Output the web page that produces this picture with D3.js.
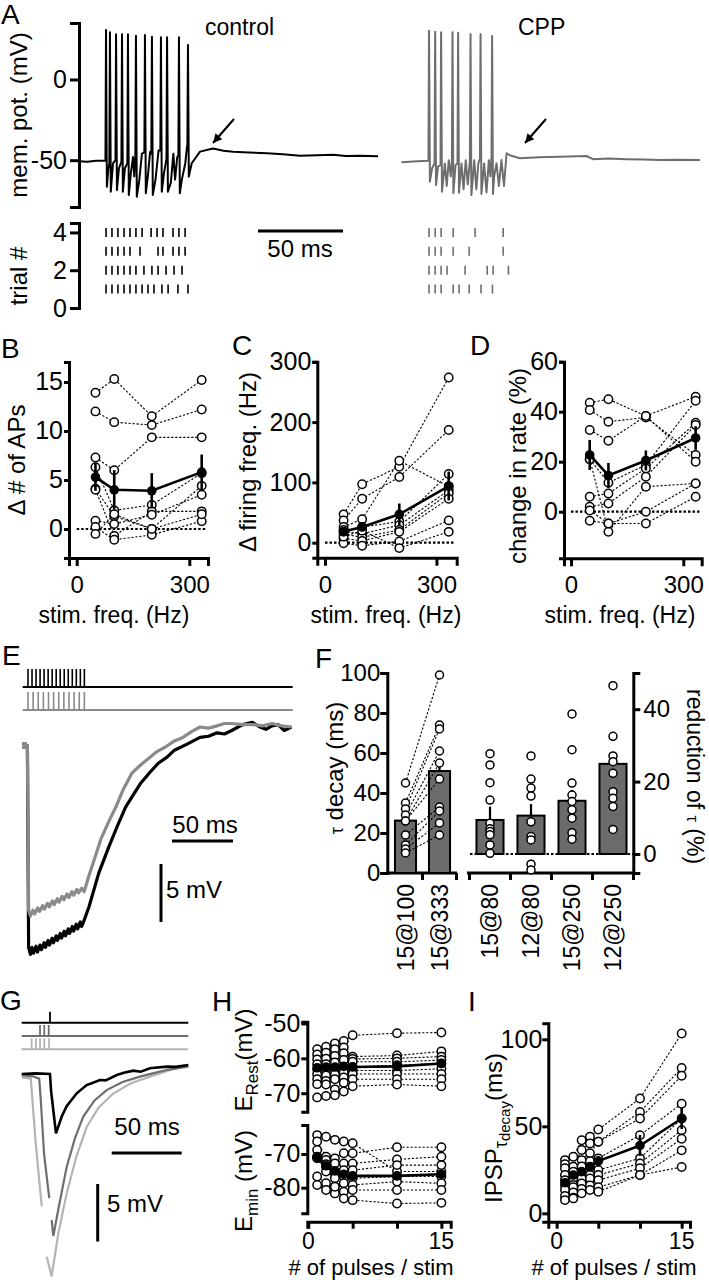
<!DOCTYPE html>
<html><head><meta charset="utf-8">
<script src="https://cdn.jsdelivr.net/npm/d3@7"></script>
<style>
body{margin:0;background:#fff;}
svg{display:block;font-family:"Liberation Sans",Arial,Helvetica,sans-serif;}
</style></head><body>
<svg id="fig" width="709" height="1280"></svg>
<script>
// ======================= DATA =======================
// Panel A – membrane potential traces (t in ms from stim onset, mV)
const ctrlPre = [[-15,-50.6],[-10,-50.9],[-5,-50.4],[0.3,-50.3]];
const ctrlSpikeT = [0.9,3.2,6.8,10.3,13.8,18.5,23.8,27.9,33.2,36.8,43.8,49.1];
const ctrlSpikePeak = [30.7,29.3,28.0,28.0,28.0,27.1,27.6,26.5,26.1,26.1,26.1,21.4];
const ctrlSpikeTrough = [-66.4,-69.5,-68.5,-69.5,-71.6,-72.6,-70.5,-71.6,-69.5,-69.5,-70.5,-60.2];
const ctrlSpikeOnset = [-50.3,-52,-50,-51,-52,-47,-45,-46,-44,-49,-47,-40];
const ctrlWiggle = [[2.2,-56],[5,-52],[8.5,-55],[12,-55],[15.5,-58],[16.8,-48],[17.5,-60],[20.5,-62],[22,-46],[25.5,-60],[26.8,-45],[30,-62],[31.8,-44],[35,-58],[39,-64],[40.5,-46],[41.5,-62],[42.8,-48],[45.5,-62],[47.5,-52],[48.5,-42]];
const ctrlPost = [[51.3,-51.9],[56.2,-44.7],[63.8,-42.7],[70,-44.2],[75.6,-44.7],[85,-45.2],[95.6,-45.7],[105,-46.3],[115,-47.3],[125,-46.9],[134.4,-46.7],[142,-47.4],[150.3,-47.3],[160.9,-47.6]];

const cppPre = [[-15,-51.3],[-8,-50.8],[0.6,-50.3]];
const cppSpikeT = [1.2,4.8,8.3,15.0,18.3,25.6,31.5,38.3];
const cppSpikePeak = [30.2,29.6,29.2,29.2,29.0,28.2,28.2,26.9];
const cppSpikeTrough = [-63.3,-65.4,-69.5,-70.5,-70.1,-71.6,-70.9,-70.9];
const cppSpikeOnset = [-50.3,-52,-53,-50,-52,-50,-49,-48];
const cppWiggle = [[3,-55],[6.5,-54],[10.5,-52],[11.6,-66],[12.8,-50],[14,-60],[16.8,-53],[20.3,-52],[21.5,-68],[22.8,-50],[24,-65],[27.8,-50],[29,-68],[30.2,-52],[33.6,-52],[35,-70],[36.4,-50],[37.3,-60],[39.5,-60]];
const cppPost = [[40.9,-51.9],[42.3,-66],[43.8,-49.9],[45.3,-66],[46.8,-45.7],[48.7,-46.9],[54.6,-48.8],[66,-48.2],[78.1,-47.8],[93.8,-47.4],[97.7,-49.4],[107,-49.0],[117,-49.4],[127,-49.6],[137,-49.9],[148,-49.7],[160.5,-49.9]];

// Panel A – raster (spike times, ms) per trial 1..4
const ctrlRaster = [
  [0.9,4.4,7.9,11.5,15,18.5,22.1,25.6,29.1,33.8,37.4,43.2,49.1],
  [0.9,4.4,7.9,11.5,15,18.5,23.2,27.9,31.5,36.2,40.9,45.6],
  [0.9,4.4,7.9,11.5,15,20.9,31.5,34.4,40.3,43.8,47.4],
  [0.9,4.4,7.9,11.5,15,18.5,22.1,27.4,30.9,34.4,40.3,43.8,47.4]];
const cppRaster = [
  [1.2,4.8,8.3,15.4,18.9,24.8,31.8,38.5],
  [1.2,4.8,8.3,11.8,22.4,35.4,38.9,47.9],
  [1.2,4.8,8.3,15.4,24.8,44.8],
  [1.2,4.8,8.3,15.4,28.3,44.8]];
const aTicks = [0,-50];
const aTickLabels = ["0","-50"];
const trialTicks = [0,2,4];

// Panels B, C, D
const freqs = [50,100,200,333];
const freqTicks = [0,300];
const apCells = [[13.9,15.3,11.5,15.2],[12.0,10.9,10.6,12.2],[7.3,6.0,9.35,9.35],[6.3,1.9,2.45,5.7],[4.1,1.3,0.0,4.4],[4.0,-0.7,1.8,1.8],[0.85,0.5,1.45,3.5],[0.2,-1.1,-0.6,0.8],[-0.5,1.5,0.0,1.5]];
const apMean = [5.3,4.0,3.9,5.8];
const apSem = [1.4,2.0,1.8,1.8];
const apTicks = [0,5,10,15];

const ffCells = [[47,97,126,274],[37,73,109,187],[26,39,136,93],[21,26,35,114],[18,15,29,87],[14,9,21,82],[7,3,18,73],[-1,-5,2,37],[10,20,-9,18]];
const ffMean = [18,26,47,94];
const ffSem = [6,7,18,24];
const ffTicks = [0,100,200,300];

const rateCells = [[43.6,45,38.3,46],[40.7,36,37.7,22.7],[32.7,28.4,38.3,20],[21,11.6,18.7,44.4],[6,7.3,17.3,35.6],[2,3.3,14,34.7],[-3.6,-4.7,-4.7,6],[21,-8,10,11.3],[0.5,-4.7,0,11.3]];
const rateMean = [22.7,14.5,20.5,29.5];
const rateSem = [6,5,4,4.7];
const rateTicks = [0,20,40,60];

// Panel E – averaged IPSPs (t ms, mV rel. baseline)
const eBlack = [[-4,-1.6],[-0.5,-1.6],[0,-10],[0.5,-19.0],[2,-19.6],[3.3,-19.0],[4.5,-19.5],[6.6,-18.9],[7.8,-19.4],[9.9,-18.8],[11,-19.2],[13.2,-18.6],[14.3,-19.0],[16.5,-18.4],[17.6,-18.8],[19.8,-18.2],[20.9,-18.6],[23.1,-18.0],[24.2,-18.4],[26.4,-17.8],[27.5,-18.2],[29.7,-17.6],[30.8,-18.0],[33,-17.4],[34.1,-17.8],[36.3,-17.2],[37.4,-17.6],[39.6,-17.0],[40.7,-17.4],[42.9,-16.8],[44,-17.2],[46.2,-16.6],[50,-15.5],[58,-12.6],[66,-10.4],[73,-8.6],[80,-6.9],[86,-5.9],[92,-4.9],[100,-3.9],[107,-3.1],[114,-2.6],[120,-2.0],[130,-1.5],[141,-0.9],[148,-0.8],[155,-0.5],[161,-0.6],[167,-0.3],[176,0.2],[184,0.4],[190,0.0],[195,-0.2],[200,0.1],[205,0.2],[210,-0.3],[216,0]];
const eGray = [[-4,-1.6],[-0.5,-1.6],[0,-8],[0.5,-15.8],[2,-16.3],[4,-15.8],[5.5,-16.1],[8,-15.6],[9.5,-15.9],[12,-15.4],[13.5,-15.7],[16,-15.2],[17.5,-15.5],[20,-15.0],[21.5,-15.3],[24,-14.8],[25.5,-15.1],[28,-14.6],[29.5,-14.9],[32,-14.4],[33.5,-14.7],[36,-14.2],[37.5,-14.5],[40,-14.0],[41.5,-14.3],[44,-13.9],[46,-14.2],[50,-12.8],[55,-11.2],[60,-9.6],[66,-8.2],[72,-6.9],[78,-5.4],[85,-4.0],[92,-3.3],[100,-2.6],[106,-2.1],[113,-1.7],[120,-1.2],[127,-0.9],[134,-0.4],[141,0],[148,-0.1],[155,0.1],[161,0.3],[167,0.3],[176,0.2],[185,0.2],[192,0.1],[200,0.3],[208,0.1],[216,0]];
const eStimBlack = [0,3.3,6.6,9.9,13.2,16.5,19.8,23.1,26.4,29.7,33,36.3,39.6,42.9,46.2];
const eStimGray = [0,4.2,8.4,12.6,16.8,21,25.2,29.4,33.6,37.8,42,46.2];

// Panel F
const fCatsLeft = ["15@100","15@333"];
const tauPairs = [[45,99],[35,74],[32,72],[29,61],[26,55],[26,47],[19,33],[14,31],[12,25],[10,19]];
const tauMean = [26.2,51];
const tauSem = [3.8,5.2];
const tauTicks = [0,20,40,60,80,100];
const fCatsRight = ["15@80","12@80","15@250","12@250"];
const redPts = [[27.7,24.6,19.7,14.9,8.5,7,6.2,5.3,2.5,0.2],[27.1,20.7,18.2,16,8.9,4.8,3.9,-2.8,-4.4],[38.7,28.8,19.6,16.3,14.5,12.2,9.9,5.9,4.1],[46.5,32.5,27.1,25.5,22.3,17.2,15.4,13.1,6.8]];
const redMean = [9.4,10.6,14.7,24.9];
const redSem = [3.7,3.2,3.0,3.0];
const redTicks = [0,20,40];

// Panel G – IPSPs for 1, 3 and 5 pulses (t ms, mV); null = blanked artefact
const gBlack = [[0,0],[10,0.05],[20.2,0],[21,-1.5],[24.5,-5.16],[28.6,-3.7],[32.1,-2.8],[39.3,-1.68],[46.4,-0.96],[50,-0.8],[55.9,-0.52],[60,-0.55],[67.9,-0.09],[73,0.1],[79.7,0.29],[85,0.2],[91.6,0.5],[103.6,0.64],[110,0.62],[119,0.78]];
const gDark = [[0,-0.1],[8,-0.2],[12.5,-0.4],[13.5,-2],[16,-7],[19.7,-10.8],null,[21.4,-12.7],[22.6,-14.1],[26.1,-11.8],[32.1,-8.1],[38,-5.6],[44,-3.7],[52,-2.3],[60.7,-1.4],[72,-0.7],[84.5,-0.23],[95,0.1],[103.6,0.35],[119,0.64]];
const gLight = [[0,-0.3],[6.5,-0.4],[7.5,-2],[10,-6],[14.3,-11.5],null,[17.9,-15.9],[21.4,-17.6],[26.1,-13.9],[32.1,-10.4],[39,-7.2],[46.4,-4.6],[55,-2.9],[65.4,-1.7],[78,-0.8],[91.6,-0.23],[105,0.3],[119,0.78]];
const gStimBlack = [20.2];
const gStimDark = [13.1,16.1,19.3];
const gStimLight = [7.1,10.2,13.1,16.1,19.5];

// Panels H and I
const pulses = [1,2,3,4,5,10,15];
const pulseTicks = [0,5,10,15];
const pulseTickLabels = [0,15];
const eRestCells = [[-57.4,-56.7,-55.7,-55.0,-53.4,-52.8,-52.6],[-58.9,-58.4,-57.4,-56.9,-59.5,-59.2,-58.0],[-60.3,-60.1,-59.3,-58.5,-60.2,-60.0,-59.5],[-61.7,-61.7,-61.2,-60.5,-61.0,-61.0,-60.5],[-63.1,-63.1,-63.1,-62.5,-62.5,-62.0,-61.5],[-64.6,-64.9,-64.6,-64.0,-63.5,-63.5,-63.0],[-66.0,-66.5,-66.0,-65.5,-64.5,-64.5,-64.5],[-67.4,-67.5,-68.9,-67.0,-66.0,-66.0,-66.0],[-71.2,-70.8,-70.6,-69.5,-68.0,-67.5,-68.0]];
const eRestMean = [-62.7,-62.5,-62.5,-62.3,-62.5,-62.3,-61.5];
const eRestSem = [1.0,1.0,1.0,1.0,1.0,1.0,1.0];
const eRestTicks = [-50,-60,-70];
const eMinCells = [[-64.4,-64.9,-65.8,-66.3,-66.8,-75.2,-75.2],[-66.3,-70.8,-71.3,-69.8,-69.8,-68.0,-68.0],[-68.8,-71.8,-72.8,-72.8,-72.8,-71.6,-70.8],[-70.8,-73.8,-75.7,-74.8,-74.8,-73.3,-73.3],[-71.3,-75.2,-77.2,-76.7,-77.2,-76.7,-76.7],[-76.7,-78.7,-79.7,-78.7,-79.2,-78.2,-78.7],[-79.2,-80.7,-81.7,-81.2,-80.7,-80.7,-80.7],[-71.0,-73.0,-79.7,-83.2,-83.7,-84.7,-84.5]];
const eMinMean = [-71,-73.5,-75,-76,-76.5,-76.5,-76];
const eMinSem = [1,1,1,1.2,1.2,1.3,1.3];
const eMinTicks = [-70,-80];
const tauDecayCells = [[30.6,32.5,42,44,48.2,66,103.3],[28.2,26.8,36.4,40.2,41.1,58.3,83.5],[25.9,24,30.6,34.5,41.1,54.5,79.1],[22,20,27,30,31.6,44.9,63],[19.1,16.3,23,26.8,24.9,31.6,54.5],[16,15,20,22,22,28.7,47.8],[13.4,12,17.2,20,19.1,25.9,42.9],[10,9,14,16,15,22,36.2],[7.6,8.6,11.5,13.4,12.4,22,26.6]];
const tauDecayMean = [17.6,22,24,26.8,30,39,54.5];
const tauDecaySem = [2,2,2.5,2.5,3,6,6];
const tauDecayTicks = [0,50,100];

// ======================= DRAWING =======================
const FONT = '"Liberation Sans", Arial, Helvetica, sans-serif';
const svg = d3.select("#fig");
svg.append("rect").attr("width",709).attr("height",1280).attr("fill","#fff");

function txt(g, x, y, s, size, anchor, rot){
  const t = g.append("text").attr("font-family",FONT).attr("font-size",size||24)
    .attr("text-anchor",anchor||"start").attr("fill","#000");
  if (rot) t.attr("transform",`translate(${x},${y}) rotate(${rot})`);
  else t.attr("x",x).attr("y",y);
  if (s !== null) t.text(s);
  return t;
}
function styleAxis(a, size){
  a.attr("font-size",null).attr("font-family",null);
  a.select(".domain").attr("stroke","#000").attr("stroke-width",3);
  a.selectAll(".tick line").attr("stroke","#000").attr("stroke-width",3);
  a.selectAll(".tick text").attr("font-family",FONT).attr("font-size",size||24).attr("fill","#000");
  a.selectAll(".tick text").filter(function(){ return this.textContent === ""; }).remove();
  return a;
}
function scatter(g, x, y, xs, cells, mean, sem, r){
  r = r || 4.2;
  const line = d3.line().x((d,i)=>x(xs[i])).y(d=>y(d));
  g.append("g").selectAll("path").data(cells).join("path").attr("d",line)
    .attr("fill","none").attr("stroke","#000").attr("stroke-width",1.1).attr("stroke-dasharray","2.2,1.8");
  const pts = cells.flatMap(c=>c.map((v,i)=>[xs[i],v]));
  g.append("g").selectAll("circle").data(pts).join("circle")
    .attr("cx",d=>x(d[0])).attr("cy",d=>y(d[1])).attr("r",r)
    .attr("fill","#fff").attr("stroke","#000").attr("stroke-width",1.5);
  g.append("path").attr("d",line(mean)).attr("fill","none").attr("stroke","#000").attr("stroke-width",2.6);
  g.append("g").selectAll("line").data(mean).join("line")
    .attr("x1",(d,i)=>x(xs[i])).attr("x2",(d,i)=>x(xs[i]))
    .attr("y1",(d,i)=>y(d-sem[i])).attr("y2",(d,i)=>y(d+sem[i]))
    .attr("stroke","#000").attr("stroke-width",2.6);
  g.append("g").selectAll("circle").data(mean).join("circle")
    .attr("cx",(d,i)=>x(xs[i])).attr("cy",d=>y(d)).attr("r",r+0.6).attr("fill","#000");
}

// ---------------- Panel A ----------------
(function(){
  const g = svg.append("g");
  txt(g,1,24,"A",28);
  const yA = d3.scaleLinear().domain([-79,35]).range([207,23]);
  const tA = d3.scaleLinear().domain([-15,160]).range([0,297.5]);
  styleAxis(g.append("g").attr("transform","translate(79,0)")
    .call(d3.axisLeft(yA).tickValues(aTicks).tickFormat((d,i)=>aTickLabels[i]).tickSizeOuter(0).tickSize(9).tickPadding(3)),25);
  txt(g,27,115,"mem. pot. (mV)",24,"middle",-90);

  function build(pre, T, P, Tr, On, W, post){
    const pts = pre.slice();
    T.forEach((t,i)=>{ pts.push([t-0.35,On[i]]); pts.push([t,P[i]]); pts.push([t+0.5,Tr[i]]); });
    W.forEach(p=>pts.push(p)); post.forEach(p=>pts.push(p));
    pts.sort((a,b)=>a[0]-b[0]);
    return pts;
  }
  const line = d3.line().x(d=>tA(d[0])).y(d=>yA(d[1]));
  const ctrl = build(ctrlPre,ctrlSpikeT,ctrlSpikePeak,ctrlSpikeTrough,ctrlSpikeOnset,ctrlWiggle,ctrlPost);
  const cpp = build(cppPre,cppSpikeT,cppSpikePeak,cppSpikeTrough,cppSpikeOnset,cppWiggle,cppPost);
  g.append("path").attr("transform","translate(79,0)").attr("d",line(ctrl))
    .attr("fill","none").attr("stroke","#000").attr("stroke-width",2).attr("stroke-linejoin","round");
  g.append("path").attr("transform","translate(401.5,0)").attr("d",line(cpp))
    .attr("fill","none").attr("stroke","#6e6e6e").attr("stroke-width",2).attr("stroke-linejoin","round");
  txt(g,205,35,"control",23);
  txt(g,518,35,"CPP",23);
  function arrow(x1,y1,x2,y2){
    g.append("line").attr("x1",x1).attr("y1",y1).attr("x2",x2).attr("y2",y2).attr("stroke","#000").attr("stroke-width",2);
    const a = Math.atan2(y2-y1,x2-x1), L=9, W=4.5;
    const bx = x2 - L*Math.cos(a), by = y2 - L*Math.sin(a);
    g.append("polygon").attr("points",[[x2,y2],[bx+W*Math.sin(a),by-W*Math.cos(a)],[bx-W*Math.sin(a),by+W*Math.cos(a)]].map(p=>p.join(",")).join(" ")).attr("fill","#000");
  }
  arrow(234,119,213,143);
  arrow(546,119,525,143);

  // raster
  const yR = d3.scaleLinear().domain([0,4.5]).range([308,223]);
  styleAxis(g.append("g").attr("transform","translate(79,0)")
    .call(d3.axisLeft(yR).tickValues(trialTicks).tickFormat(d=>String(d)).tickSizeOuter(0).tickSize(9).tickPadding(3)),25);
  txt(g,27,276,"trial #",24,"middle",-90);
  function raster(data, ox, col){
    data.forEach((row,k)=>{
      g.append("g").selectAll("line").data(row).join("line")
        .attr("x1",d=>ox+tA(d)).attr("x2",d=>ox+tA(d))
        .attr("y1",yR(k+1)-4.5).attr("y2",yR(k+1)+4.5)
        .attr("stroke",col).attr("stroke-width",1.6);
    });
  }
  raster(ctrlRaster,79,"#000");
  raster(cppRaster,401.5,"#6e6e6e");
  g.append("line").attr("x1",258).attr("x2",258+tA(35)-tA(-15)).attr("y1",231).attr("y2",231).attr("stroke","#000").attr("stroke-width",3);
  txt(g,300,257,"50 ms",24,"middle");
})();

// ---------------- Panels B, C, D ----------------
function freqPanel(o){
  const g = svg.append("g");
  txt(g,o.lx,o.ly,o.letter,28);
  const x = d3.scaleLinear().domain(o.xd).range(o.xr);
  const y = d3.scaleLinear().domain(o.yd).range(o.yr);
  styleAxis(g.append("g").attr("transform",`translate(${o.xr[0]},0)`)
    .call(d3.axisLeft(y).tickValues(o.ticks).tickSizeOuter(0).tickSize(5).tickPadding(1)),25);
  styleAxis(g.append("g").attr("transform",`translate(0,${o.yr[0]})`)
    .call(d3.axisBottom(x).tickValues(freqTicks).tickSizeOuter(0).tickSize(8).tickPadding(10)),24);
  g.append("line").attr("x1",x(0)).attr("x2",o.xr[1]-2).attr("y1",y(0)).attr("y2",y(0))
    .attr("stroke","#000").attr("stroke-width",2.2).attr("stroke-dasharray","2.5,2");
  scatter(g,x,y,freqs,o.cells,o.mean,o.sem);
  txt(g,o.labX,o.labY,o.ylab,24,"middle",-90);
  txt(g,o.xlabC,623,"stim. freq. (Hz)",23,"middle");
}
freqPanel({letter:"B",lx:1,ly:358,xd:[-20.5,349.8],xr:[69,208],yd:[-2.96,17.04],yr:[558,362],ticks:apTicks,
  cells:apCells,mean:apMean,sem:apSem,ylab:"Δ # of APs",labX:25,labY:460,xlabC:114});
freqPanel({letter:"C",lx:232,ly:355,xd:[-20.7,354.5],xr:[317.3,456.7],yd:[-24.9,300.2],yr:[557.7,361.7],ticks:ffTicks,
  cells:ffCells,mean:ffMean,sem:ffSem,ylab:"Δ firing freq. (Hz)",labX:256,labY:462,xlabC:386});
freqPanel({letter:"D",lx:470,ly:355,xd:[-18.7,349.2],xr:[564,701.7],yd:[-18.64,60],yr:[558.3,361.7],ticks:rateTicks,
  cells:rateCells,mean:rateMean,sem:rateSem,ylab:"change in rate (%)",labX:526,labY:466,xlabC:620});

// ---------------- Panel E ----------------
(function(){
  const g = svg.append("g");
  txt(g,2,665,"E",28);
  const tE = d3.scaleLinear().domain([0,50]).range([28,89]);
  const vE = d3.scaleLinear().domain([-20,0]).range([959,727]);
  g.append("line").attr("x1",22.7).attr("x2",292.7).attr("y1",687).attr("y2",687).attr("stroke","#000").attr("stroke-width",2);
  g.append("g").selectAll("line").data(eStimBlack).join("line").attr("x1",d=>tE(d)).attr("x2",d=>tE(d))
    .attr("y1",669).attr("y2",687).attr("stroke","#000").attr("stroke-width",1.6);
  g.append("line").attr("x1",22.7).attr("x2",292.7).attr("y1",710).attr("y2",710).attr("stroke","#8a8a8a").attr("stroke-width",2);
  g.append("g").selectAll("line").data(eStimGray).join("line").attr("x1",d=>tE(d)).attr("x2",d=>tE(d))
    .attr("y1",692).attr("y2",710).attr("stroke","#8a8a8a").attr("stroke-width",1.6);
  const line = d3.line().x(d=>tE(d[0])).y(d=>vE(d[1]));
  g.append("path").attr("d",line(eBlack)).attr("fill","none").attr("stroke","#000").attr("stroke-width",3.2).attr("stroke-linejoin","round");
  g.append("path").attr("d",line(eGray)).attr("fill","none").attr("stroke","#8a8a8a").attr("stroke-width",3.2).attr("stroke-linejoin","round");
  g.append("rect").attr("x",22).attr("y",742).attr("width",5).attr("height",7).attr("fill","#8a8a8a");
  g.append("line").attr("x1",172).attr("x2",172+tE(50)-tE(0)).attr("y1",841).attr("y2",841).attr("stroke","#000").attr("stroke-width",3);
  txt(g,205,833,"50 ms",24,"middle");
  g.append("line").attr("x1",161).attr("x2",161).attr("y1",864).attr("y2",864+(vE(-5)-vE(0))).attr("stroke","#000").attr("stroke-width",3);
  txt(g,166,898,"5 mV",24);
})();

// ---------------- Panel F ----------------
(function(){
  const g = svg.append("g");
  txt(g,315,668,"F",28);
  const yL = d3.scaleLinear().domain([0,100]).range([873,673]);
  const yRt = d3.scaleLinear().domain([-5.25,50]).range([873,673]);
  const xL = d3.scaleBand().domain(fCatsLeft).range([388.5,456.5]).paddingInner(0.38).paddingOuter(0.19);
  const xR = d3.scaleBand().domain(fCatsRight).range([469.5,633.5]).paddingInner(0.34).paddingOuter(0.17);
  styleAxis(g.append("g").attr("transform","translate(387.3,0)")
    .call(d3.axisLeft(yL).tickValues(tauTicks).tickSizeOuter(0).tickSize(7).tickPadding(0)),24);
  styleAxis(g.append("g").attr("transform","translate(633.3,0)")
    .call(d3.axisRight(yRt).tickValues(redTicks).tickSizeOuter(0).tickSize(7).tickPadding(3)),24);
  const bL = [388.5,422.5,456.5], bR = [469.5,510.5,551.5,592.5,633.5];
  g.append("line").attr("x1",386).attr("x2",457).attr("y1",873).attr("y2",873).attr("stroke","#000").attr("stroke-width",3);
  g.append("line").attr("x1",467).attr("x2",634.8).attr("y1",873).attr("y2",873).attr("stroke","#000").attr("stroke-width",3);
  g.append("g").selectAll("line").data(bL.slice(1).concat(bR)).join("line").attr("x1",d=>d).attr("x2",d=>d)
    .attr("y1",873).attr("y2",880).attr("stroke","#000").attr("stroke-width",3);
  g.append("line").attr("x1",470).attr("x2",633).attr("y1",yRt(0)).attr("y2",yRt(0)).attr("stroke","#000").attr("stroke-width",2.2).attr("stroke-dasharray","2.5,2");
  g.append("g").selectAll("rect").data(tauMean).join("rect")
    .attr("x",(d,i)=>xL(fCatsLeft[i])).attr("width",xL.bandwidth()).attr("y",d=>yL(d)).attr("height",d=>yL(0)-yL(d))
    .attr("fill","#6b6b6b").attr("stroke","#000").attr("stroke-width",2);
  g.append("g").selectAll("rect").data(redMean).join("rect")
    .attr("x",(d,i)=>xR(fCatsRight[i])).attr("width",xR.bandwidth()).attr("y",d=>yRt(d)).attr("height",d=>yRt(0)-yRt(d))
    .attr("fill","#6b6b6b").attr("stroke","#000").attr("stroke-width",2);
  g.append("g").selectAll("line").data(tauMean).join("line")
    .attr("x1",(d,i)=>xL(fCatsLeft[i])+xL.bandwidth()/2).attr("x2",(d,i)=>xL(fCatsLeft[i])+xL.bandwidth()/2)
    .attr("y1",d=>yL(d)).attr("y2",(d,i)=>yL(d+tauSem[i])).attr("stroke","#000").attr("stroke-width",2.2);
  g.append("g").selectAll("line").data(redMean).join("line")
    .attr("x1",(d,i)=>xR(fCatsRight[i])+xR.bandwidth()/2).attr("x2",(d,i)=>xR(fCatsRight[i])+xR.bandwidth()/2)
    .attr("y1",d=>yRt(d)).attr("y2",(d,i)=>yRt(d+redSem[i])).attr("stroke","#000").attr("stroke-width",2.2);
  const cx0 = xL(fCatsLeft[0])+xL.bandwidth()/2, cx1 = xL(fCatsLeft[1])+xL.bandwidth()/2;
  g.append("g").selectAll("line").data(tauPairs).join("line")
    .attr("x1",cx0).attr("x2",cx1).attr("y1",d=>yL(d[0])).attr("y2",d=>yL(d[1]))
    .attr("stroke","#000").attr("stroke-width",1.1).attr("stroke-dasharray","2.2,1.8");
  const lp = tauPairs.flatMap(d=>[[cx0,d[0]],[cx1,d[1]]]);
  g.append("g").selectAll("circle").data(lp).join("circle").attr("cx",d=>d[0]).attr("cy",d=>yL(d[1])).attr("r",4)
    .attr("fill","#fff").attr("stroke","#000").attr("stroke-width",1.5);
  const rp = redPts.flatMap((arr,i)=>arr.map(v=>[xR(fCatsRight[i])+xR.bandwidth()/2,v]));
  g.append("g").selectAll("circle").data(rp).join("circle").attr("cx",d=>d[0]).attr("cy",d=>yRt(d[1])).attr("r",4)
    .attr("fill","#fff").attr("stroke","#000").attr("stroke-width",1.5);
  const cats = fCatsLeft.map(c=>[c,xL(c)+xL.bandwidth()/2]).concat(fCatsRight.map(c=>[c,xR(c)+xR.bandwidth()/2]));
  cats.forEach(([c,cx])=>{ txt(g,cx,884,c,23,"end",-90).attr("dy","0.35em"); });
  const tl = txt(g,343,768,null,24,"middle",-90);
  tl.append("tspan").attr("font-size",18).text("τ");
  tl.append("tspan").text(" decay (ms)");
  const tr = txt(g,687,689,null,23,"start",90);
  tr.append("tspan").text("reduction of ");
  tr.append("tspan").attr("font-size",16).text("τ");
  tr.append("tspan").text("  (%)");
})();

// ---------------- Panel G ----------------
(function(){
  const g = svg.append("g");
  txt(g,0,1010,"G",28);
  const tG = d3.scaleLinear().domain([0,50]).range([21.7,91.7]);
  const vG = d3.scaleLinear().domain([-5,0]).range([1131.5,1074]);
  const rows = [[1022.7,"#000",gStimBlack],[1036,"#6e6e6e",gStimDark],[1049.3,"#b4b4b4",gStimLight]];
  rows.forEach(([yy,col,st])=>{
    g.append("line").attr("x1",21.7).attr("x2",188.3).attr("y1",yy).attr("y2",yy).attr("stroke",col).attr("stroke-width",2);
    g.append("g").selectAll("line").data(st).join("line").attr("x1",d=>tG(d)).attr("x2",d=>tG(d))
      .attr("y1",yy-11).attr("y2",yy).attr("stroke",col).attr("stroke-width",1.8);
  });
  const line = d3.line().defined(d=>d!==null).x(d=>tG(d[0])).y(d=>vG(d[1]));
  g.append("path").attr("d",line(gLight)).attr("fill","none").attr("stroke","#b4b4b4").attr("stroke-width",2.2);
  g.append("path").attr("d",line(gDark)).attr("fill","none").attr("stroke","#6e6e6e").attr("stroke-width",2.2);
  g.append("path").attr("d",line(gBlack)).attr("fill","none").attr("stroke","#000").attr("stroke-width",2.6);
  g.append("line").attr("x1",111.7).attr("x2",111.7+tG(50)-tG(0)).attr("y1",1153).attr("y2",1153).attr("stroke","#000").attr("stroke-width",3);
  txt(g,147,1135,"50 ms",24,"middle");
  g.append("line").attr("x1",97.7).attr("x2",97.7).attr("y1",1184).attr("y2",1184+vG(-5)-vG(0)).attr("stroke","#000").attr("stroke-width",3);
  txt(g,107,1212,"5 mV",24);
})();

// ---------------- Panels H, I ----------------
function pulseAxis(g, x){
  styleAxis(g.append("g").attr("transform","translate(0,1221.7)")
    .call(d3.axisBottom(x).tickValues(pulseTicks).tickFormat(()=> "").tickSizeOuter(0).tickSize(7)),24);
  g.append("g").selectAll("text").data(pulseTickLabels).join("text")
    .attr("x",d=>x(d)).attr("y",1249).attr("text-anchor","middle")
    .attr("font-family",FONT).attr("font-size",23).attr("fill","#000").text(d=>String(d));
}
(function(){
  const g = svg.append("g");
  txt(g,212,1011,"H",28);
  const x = d3.scaleLinear().domain([-0.11,16.05]).range([307.3,450.7]);
  const yU = d3.scaleLinear().domain([-75.3,-49.5]).range([1111.7,1021.7]);
  const yD = d3.scaleLinear().domain([-87.6,-61.4]).range([1213.3,1125]);
  const fmt = d=>String(d);
  styleAxis(g.append("g").attr("transform","translate(307.3,0)")
    .call(d3.axisLeft(yU).tickValues(eRestTicks).tickFormat(fmt).tickSizeOuter(0).tickSize(6).tickPadding(1)),25);
  styleAxis(g.append("g").attr("transform","translate(307.3,0)")
    .call(d3.axisLeft(yD).tickValues(eMinTicks).tickFormat(fmt).tickSizeOuter(0).tickSize(6).tickPadding(1)),25);
  pulseAxis(g,x);
  scatter(g,x,yU,pulses,eRestCells,eRestMean,eRestSem);
  scatter(g,x,yD,pulses,eMinCells,eMinMean,eMinSem);
  const t1 = txt(g,252,1060,null,24,"middle",-90);
  t1.append("tspan").text("E"); t1.append("tspan").attr("font-size",17).attr("dy",6).text("Rest");
  t1.append("tspan").attr("dy",-6).text("(mV)");
  const t2 = txt(g,252,1181,null,24,"middle",-90);
  t2.append("tspan").text("E"); t2.append("tspan").attr("font-size",17).attr("dy",6).text("min");
  t2.append("tspan").attr("dy",-6).text(" (mV)");
  txt(g,371,1275,"# of pulses / stim",22,"middle");
})();
(function(){
  const g = svg.append("g");
  txt(g,468,1011,"I",28);
  const x = d3.scaleLinear().domain([-1.0,16.0]).range([548.3,690]);
  const y = d3.scaleLinear().domain([-4.8,109.2]).range([1221.7,1023.3]);
  styleAxis(g.append("g").attr("transform","translate(548.3,0)")
    .call(d3.axisLeft(y).tickValues(tauDecayTicks).tickSizeOuter(0).tickSize(6).tickPadding(0)),25);
  pulseAxis(g,x);
  scatter(g,x,y,pulses,tauDecayCells,tauDecayMean,tauDecaySem);
  const t = txt(g,502,1128,null,24,"middle",-90);
  t.append("tspan").text("IPSP");
  t.append("tspan").attr("font-size",18).attr("dy",5).text("τ");
  t.append("tspan").attr("font-size",15).attr("dy",3).text("decay");
  t.append("tspan").attr("dy",-8).text("(ms)");
  txt(g,614,1275,"# of pulses / stim",22,"middle");
})();
</script>
</body></html>
